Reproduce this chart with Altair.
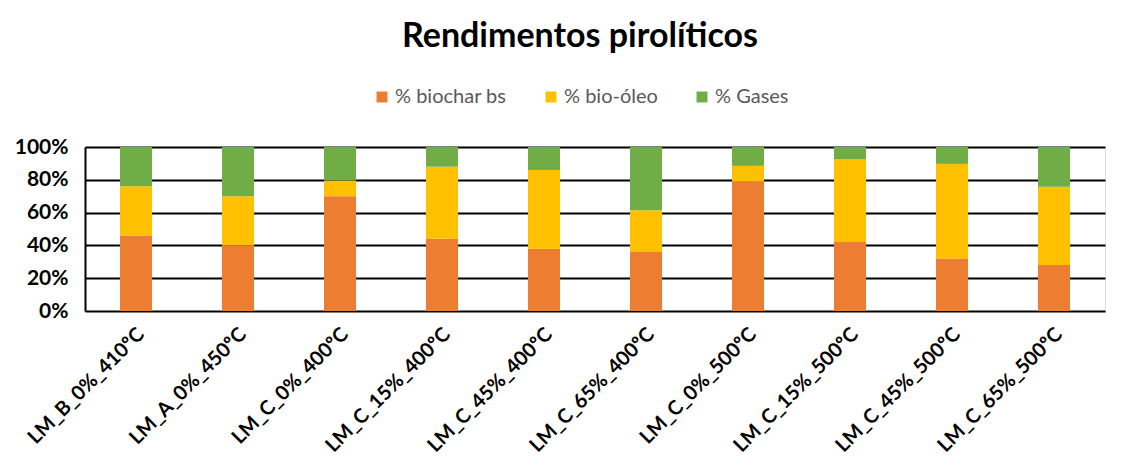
import altair as alt
import pandas as pd

categories = ["LM_B_0%_410ºC", "LM_A_0%_450ºC", "LM_C_0%_400ºC", "LM_C_15%_400ºC",
              "LM_C_45%_400ºC", "LM_C_65%_400ºC", "LM_C_0%_500ºC", "LM_C_15%_500ºC",
              "LM_C_45%_500ºC", "LM_C_65%_500ºC"]
biochar = [46, 40, 70, 44, 38, 36, 79, 42, 32, 28]
bio_oleo = [30, 30, 9.5, 44, 48, 25.5, 9.5, 50.5, 57.7, 47.7]
gases = [24, 30, 20.5, 12, 14, 38.5, 11.5, 7.5, 10.3, 24.3]
series = ["% biochar bs", "% bio-óleo", "% Gases"]
colors = ["#ED7D31", "#FFC000", "#70AD47"]

rows = []
for i, c in enumerate(categories):
    for k, (s, vals) in enumerate(zip(series, [biochar, bio_oleo, gases])):
        rows.append({"cat": c, "serie": s, "valor": vals[i], "ordem": k})
df = pd.DataFrame(rows)

FONT = "Lato"

chart = alt.Chart(df).mark_bar(size=32).encode(
    x=alt.X("cat:N", sort=categories, title=None,
            scale=alt.Scale(paddingInner=0.69, paddingOuter=0.345),
            axis=alt.Axis(labelAngle=-45, labelFont=FONT, labelFontSize=20,
                          labelFontWeight="bold", labelColor="black",
                          domain=False, ticks=False, labelPadding=20,
                          labelOffset=5,
                          labelAlign="right", labelBaseline="middle")),
    y=alt.Y("valor:Q", stack="normalize", title=None,
            scale=alt.Scale(domain=[0, 1]),
            axis=alt.Axis(format="%", values=[0, 0.2, 0.4, 0.6, 0.8, 1.0],
                          labelFont=FONT, labelFontSize=21, labelFontWeight="bold",
                          labelColor="black", grid=True, gridColor="black",
                          gridWidth=2, domain=True, domainColor="black",
                          domainWidth=2, ticks=False, labelPadding=17)),
    color=alt.Color("serie:N", sort=series,
                    scale=alt.Scale(domain=series, range=colors),
                    legend=alt.Legend(orient="none", legendX=287, legendY=-60,
                                      direction="horizontal", title=None,
                                      symbolType="square", symbolSize=120,
                                      symbolStrokeWidth=0,
                                      labelFont=FONT, labelFontSize=20,
                                      labelColor="#595959", columnPadding=34,
                                      labelOffset=3)),
    order=alt.Order("ordem:Q", sort="ascending"),
).properties(
    width=1020, height=164,
    title=alt.TitleParams("Rendimentos pirolíticos", font=FONT, fontSize=34,
                          fontWeight="bold", color="black", anchor="middle",
                          dx=-15, offset=33),
    autosize=alt.AutoSizeParams(type="none"),
    padding={"left": 77, "top": 139, "right": 8, "bottom": 149},
).configure_view(stroke=None).configure(background="white")

chart.save("out.html", embed_options={"renderer": "svg", "actions": False})
